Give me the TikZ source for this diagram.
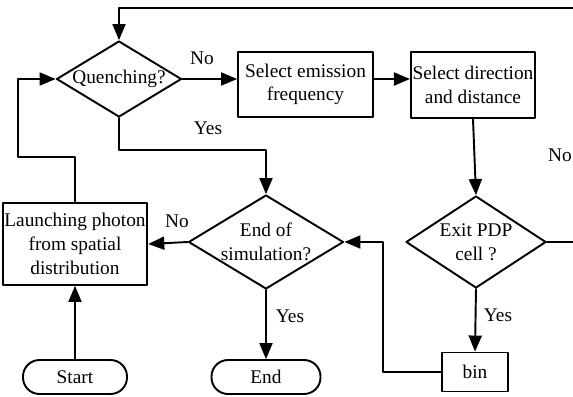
\documentclass[tikz,border=0pt]{standalone}
\usepackage{fontspec}
\setmainfont{Liberation Serif}
\usepackage{tikz}
\usetikzlibrary{arrows,shapes.geometric}

\begin{document}
\begin{tikzpicture}[line cap=round,line join=round,>=triangle 45,x=0.2mm,y=-0.2mm,
  line width=1.1pt,font=\fontsize{11}{13.5}\selectfont,
  box/.style={draw,rectangle,align=center,inner sep=1pt},
  dec/.style={draw,diamond,align=center,inner sep=0pt,aspect=1.6},
  term/.style={draw,rectangle,rounded corners=0.33cm,minimum height=0.68cm}]
\clip(0,0) rectangle (573,397);
\node[dec,minimum width=2.5cm,minimum height=1.52cm] (quench) at (119,79) {Quenching?};
\node[box,minimum width=2.7cm,minimum height=1.3cm] (freq) at (305.5,84.5) {Select emission\\frequency};
\node[box,minimum width=2.4cm,minimum height=1.32cm] (dir) at (473,85) {Select direction\\and distance};
\node[dec,minimum width=2.8cm,minimum height=1.84cm] (exit) at (476,242) {Exit PDP\\cell ?};
\node[box,minimum width=1.32cm,minimum height=0.78cm] (bin) at (475,372) {bin};
\node[dec,minimum width=3.1cm,minimum height=1.84cm] (endsim) at (266,242) {End of\\simulation?};
\node[term,minimum width=2.18cm] (endnode) at (266,377) {End};
\node[term,minimum width=2.08cm] (start) at (75,377) {Start};
\node[box,minimum width=2.78cm,minimum height=1.64cm] (launch) at (75,244) {Launching photon\\from spatial\\distribution};
\coordinate (yesturn) at (119,150);
\coordinate (loopleft) at (18,157);
\coordinate (topright) at (590,8);
\coordinate (topleft) at (119,8);
\draw[->] (quench.east) -- (freq.west |- quench.east);
\draw[->] (freq.east |- quench.east) -- (dir.west |- quench.east);
\draw[->] (dir.south) -- (exit.north);
\draw[->] (exit.south) -- (bin.north);
\draw[->] (exit.east) -| (topright) -- (topleft) -- (quench.north);
\draw[->] (bin.west) -- ++(-58,0) |- (endsim.east);
\draw[->] (quench.south) -- (yesturn) -| (endsim.north);
\draw[->] (endsim.south) -- (endnode.north);
\draw[->] (endsim.west) -- (launch.east);
\draw[->] (start.north) -- (launch.south);
\draw[->] (launch.north) |- (loopleft) |- (quench.west);
\draw (202,58) node {No};
\draw (208,128) node {Yes};
\draw (560,155) node {No};
\draw (498,315) node {Yes};
\draw (290,316) node {Yes};
\draw (177,221) node {No};
\end{tikzpicture}
\end{document}
